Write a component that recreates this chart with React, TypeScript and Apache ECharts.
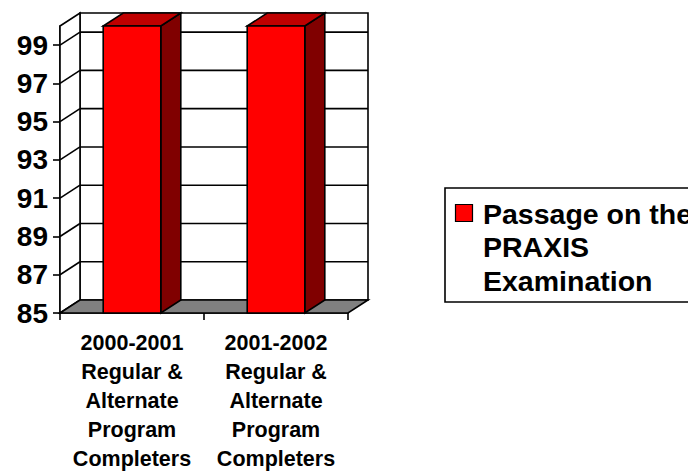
import React, { useEffect, useRef } from "react";
import * as echarts from "echarts";

const categories = [
  "2000-2001\nRegular &\nAlternate\nProgram\nCompleters",
  "2001-2002\nRegular &\nAlternate\nProgram\nCompleters",
];
const seriesName = "Passage on the\nPRAXIS\nExamination";
const passageValues = [100, 100];
const yMin = 85;
const yMax = 100;
const yTickValues = [85, 87, 89, 91, 93, 95, 97, 99];
const gridLineValues = [87, 89, 91, 93, 95, 97, 99];

const DX = 20;
const DY = -13;
const LW = 1.6;
const FONT = "Arial, 'Liberation Sans', sans-serif";

export default function App() {
  const ref = useRef<HTMLDivElement>(null);
  useEffect(() => {
    const chart = echarts.init(ref.current!, null, { renderer: "svg" });
    const option: any = {
      animation: false,
      backgroundColor: "#fff",
      grid: { left: 60, top: 26, width: 288, height: 289, containLabel: false },
      xAxis: {
        type: "category",
        data: categories,
        boundaryGap: true,
        axisLine: { show: true, lineStyle: { color: "#000", width: LW } },
        axisTick: { show: true, length: 7, lineStyle: { color: "#000", width: LW } },
        axisLabel: {
          color: "#000",
          fontFamily: FONT,
          fontWeight: "bold",
          fontSize: 21.5,
          lineHeight: 29,
          margin: 15,
          interval: 0,
        },
        splitLine: { show: false },
      },
      yAxis: {
        type: "value",
        min: yMin,
        max: yMax,
        axisLine: { show: true, lineStyle: { color: "#000", width: LW } },
        axisTick: { show: true, length: 7, customValues: yTickValues, lineStyle: { color: "#000", width: LW } },
        axisLabel: {
          color: "#000",
          fontFamily: FONT,
          fontWeight: "bold",
          fontSize: 28,
          margin: 12,
          customValues: yTickValues,
        },
        splitLine: { show: false },
      },
      series: [
        {
          type: "custom",
          name: "walls",
          silent: true,
          z: 1,
          data: [[0, yMax]],
          renderItem: (params: any, api: any) => {
            const bw = api.size([1, 0])[0];
            const p0 = api.coord([0, yMin]);
            const p1 = api.coord([categories.length - 1, yMax]);
            const L = p0[0] - bw / 2;
            const R = p1[0] + bw / 2;
            const B = p0[1];
            const T = p1[1];
            return {
              type: "group",
              children: [
                {
                  type: "polygon",
                  shape: { points: [[L + DX, T + DY], [R + DX, T + DY], [R + DX, B + DY], [L + DX, B + DY]] },
                  style: { fill: "#fff", stroke: "#000", lineWidth: LW },
                },
                {
                  type: "polygon",
                  shape: { points: [[L, T], [L + DX, T + DY], [L + DX, B + DY], [L, B]] },
                  style: { fill: "#fff", stroke: "#000", lineWidth: LW },
                },
                {
                  type: "polygon",
                  shape: { points: [[L, B], [R, B], [R + DX, B + DY], [L + DX, B + DY]] },
                  style: { fill: "#808080", stroke: "#000", lineWidth: LW },
                },
              ],
            };
          },
        },
        {
          type: "custom",
          name: "gridlines",
          silent: true,
          z: 2,
          data: gridLineValues.map((v) => [0, v]),
          renderItem: (params: any, api: any) => {
            const bw = api.size([1, 0])[0];
            const p = api.coord([0, api.value(1)]);
            const pr = api.coord([categories.length - 1, api.value(1)]);
            const L = p[0] - bw / 2;
            const R = pr[0] + bw / 2;
            const y = p[1];
            return {
              type: "group",
              children: [
                {
                  type: "line",
                  shape: { x1: L + DX, y1: y + DY, x2: R + DX, y2: y + DY },
                  style: { stroke: "#000", lineWidth: LW },
                },
                {
                  type: "line",
                  shape: { x1: L, y1: y, x2: L + DX, y2: y + DY },
                  style: { stroke: "#000", lineWidth: LW },
                },
              ],
            };
          },
        },
        {
          type: "custom",
          name: seriesName,
          z: 3,
          data: passageValues.map((v, i) => [i, v]),
          renderItem: (params: any, api: any) => {
            const bw = api.size([1, 0])[0];
            const barW = bw * 0.4;
            const top = api.coord([api.value(0), api.value(1)]);
            const base = api.coord([api.value(0), yMin]);
            const L = top[0] - barW / 2;
            const R = top[0] + barW / 2;
            const T = top[1];
            const B = base[1];
            return {
              type: "group",
              children: [
                {
                  type: "polygon",
                  shape: { points: [[R, T], [R + DX, T + DY], [R + DX, B + DY], [R, B]] },
                  style: { fill: "#800000", stroke: "#000", lineWidth: LW },
                },
                {
                  type: "polygon",
                  shape: { points: [[L, T], [R, T], [R + DX, T + DY], [L + DX, T + DY]] },
                  style: { fill: "#BF0000", stroke: "#000", lineWidth: LW },
                },
                {
                  type: "rect",
                  shape: { x: L, y: T, width: R - L, height: B - T },
                  style: { fill: "#FF0000", stroke: "#000", lineWidth: LW },
                },
              ],
            };
          },
        },
      ],
      graphic: [
        {
          type: "rect",
          shape: { x: 445, y: 188, width: 300, height: 114 },
          style: { fill: "#fff", stroke: "#000", lineWidth: 1.6 },
        },
        {
          type: "rect",
          shape: { x: 455.5, y: 204.5, width: 17, height: 17 },
          style: { fill: "#FF0000", stroke: "#000", lineWidth: 1.2 },
        },
        {
          type: "text",
          x: 483,
          y: 197,
          style: {
            text: seriesName,
            fontFamily: FONT,
            fontWeight: "bold",
            fontSize: 28.5,
            lineHeight: 33.5,
            fill: "#000",
            verticalAlign: "top",
          },
        },
      ],
    };
    chart.setOption(option);
    return () => chart.dispose();
  }, []);
  return (
    <div
      ref={ref}
      style={{ position: "fixed", left: 0, top: 0, width: 688, height: 473 }}
    />
  );
}
